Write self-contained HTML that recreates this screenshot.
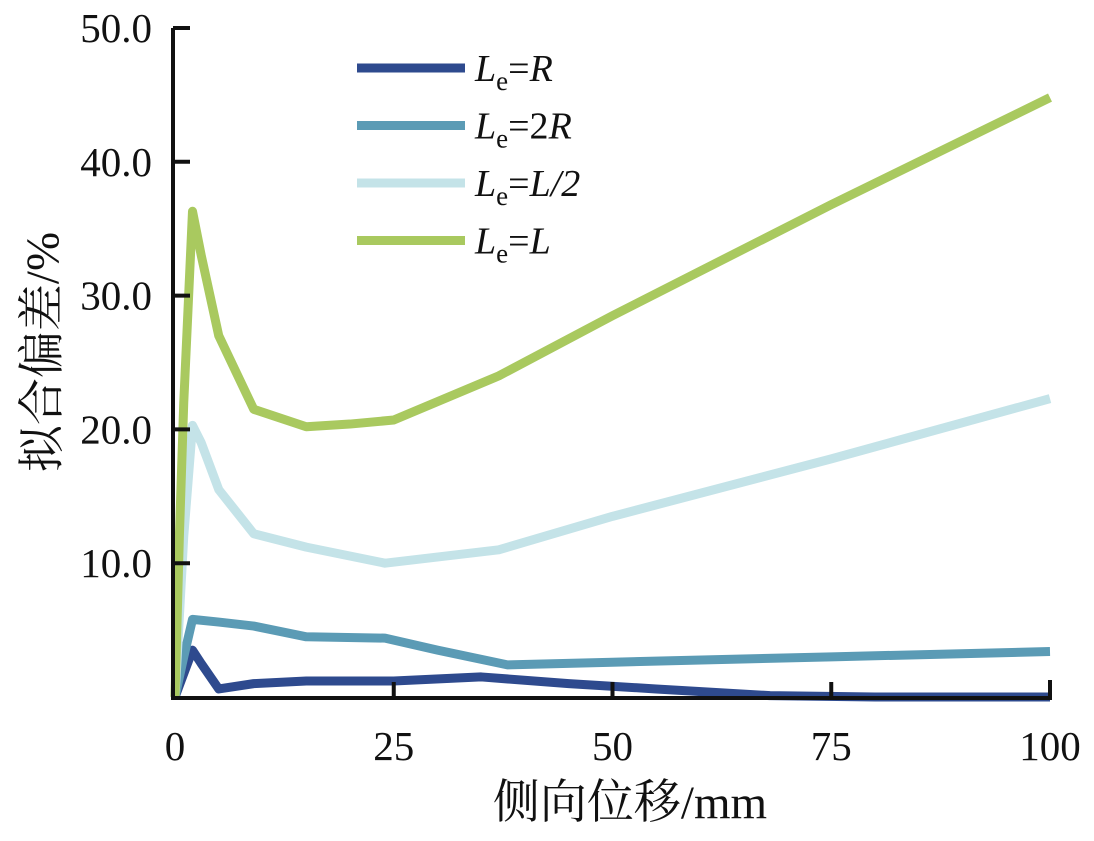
<!DOCTYPE html>
<html><head><meta charset="utf-8"><style>
body{margin:0;background:#fff;}
svg text{font-family:"Liberation Serif","Noto Serif CJK SC",serif;fill:#111;}
</style></head><body>
<svg id="c" width="1094" height="836"></svg>
<script>
const xTicks=[0,25,50,75,100];
const yTicks=[10,20,30,40,50];
const yTickLabels=["10.0","20.0","30.0","40.0","50.0"];
const seriesNames=["Le=R","Le=2R","Le=L/2","Le=L"];
const xR=[0,2,3,5,9,15,25,35,45,55,68,80,100];
const yR=[0,3.5,2.5,0.6,1,1.2,1.2,1.5,1,0.6,0.1,0,0];
const x2R=[0,1,2,5,9,15,24,30,38,50,75,100];
const y2R=[0,3,5.8,5.6,5.3,4.5,4.4,3.5,2.4,2.6,3,3.4];
const xL2=[0,1,2,3,5,9,15,24,37,50,75,100];
const yL2=[0,12,20.3,19,15.5,12.2,11.2,10,11,13.5,17.8,22.3];
const xL=[0,0.5,1,2,3,5,9,15,20,25,37,50,75,100];
const yL=[0,12,22,36.3,33,27,21.5,20.2,20.4,20.7,24,28.5,36.8,44.8];
const colors=["#2e4a8e","#5b9bb5","#c4e3e8","#a9c95f"];
const NS="http://www.w3.org/2000/svg";
const svg=document.getElementById('c');
const X=v=>175+v*8.75, Y=v=>697-v*13.38;
function mk(t,a,p){const e=document.createElementNS(NS,t);for(const k in a)e.setAttribute(k,a[k]);(p||svg).appendChild(e);return e;}
const series=[[xR,yR],[x2R,y2R],[xL2,yL2],[xL,yL]];
series.forEach((s,i)=>{
  const pts=s[0].map((x,j)=>X(x)+','+Y(s[1][j])).join(' ');
  const l=mk('polyline',{points:pts,fill:'none',stroke:colors[i],'stroke-width':9,'stroke-linejoin':'round'});
  
  
});
const ax=mk('path',{d:`M173,28 V698 H1050 V680`,fill:'none',stroke:'#111','stroke-width':4});


yTicks.forEach((v,i)=>{
  const t=mk('line',{x1:173,x2:190,y1:Y(v),y2:Y(v),stroke:'#111','stroke-width':4});
  
  
  const tx=mk('text',{x:152,y:Y(v)+14,'text-anchor':'end','font-size':41});
  tx.textContent=yTickLabels[i];
  
  
});
xTicks.forEach(v=>{
  if(v>0&&v<100){const t=mk('line',{x1:X(v),x2:X(v),y1:698,y2:682,stroke:'#111','stroke-width':4});
  
  }
  const tx=mk('text',{x:X(v),y:760,'text-anchor':'middle','font-size':41});
  tx.textContent=String(v);
  
  
});
const lab=[["","R"],["2","R"],["","L/2"],["","L"]];
lab.forEach((lb,i)=>{
  const y=68+i*57.5;
  const l=mk('line',{x1:357,x2:465,y1:y,y2:y,stroke:colors[i],'stroke-width':9});
  
  
  const t=mk('text',{x:475,y:y+13,'font-size':38});
  
  
  t.innerHTML=`<tspan font-style="italic">L</tspan><tspan font-size="27" dy="9">e</tspan><tspan dy="-9">=${lb[0]}</tspan><tspan font-style="italic">${lb[1]}</tspan>`;
});
const xt=mk('text',{x:630,y:818,'text-anchor':'middle','font-size':47});
xt.textContent='侧向位移/mm';


const yt=mk('text',{x:0,y:0,'text-anchor':'middle','font-size':47,transform:'translate(58,352) rotate(-90)'});
yt.textContent='拟合偏差/%';


</script>
</body></html>
